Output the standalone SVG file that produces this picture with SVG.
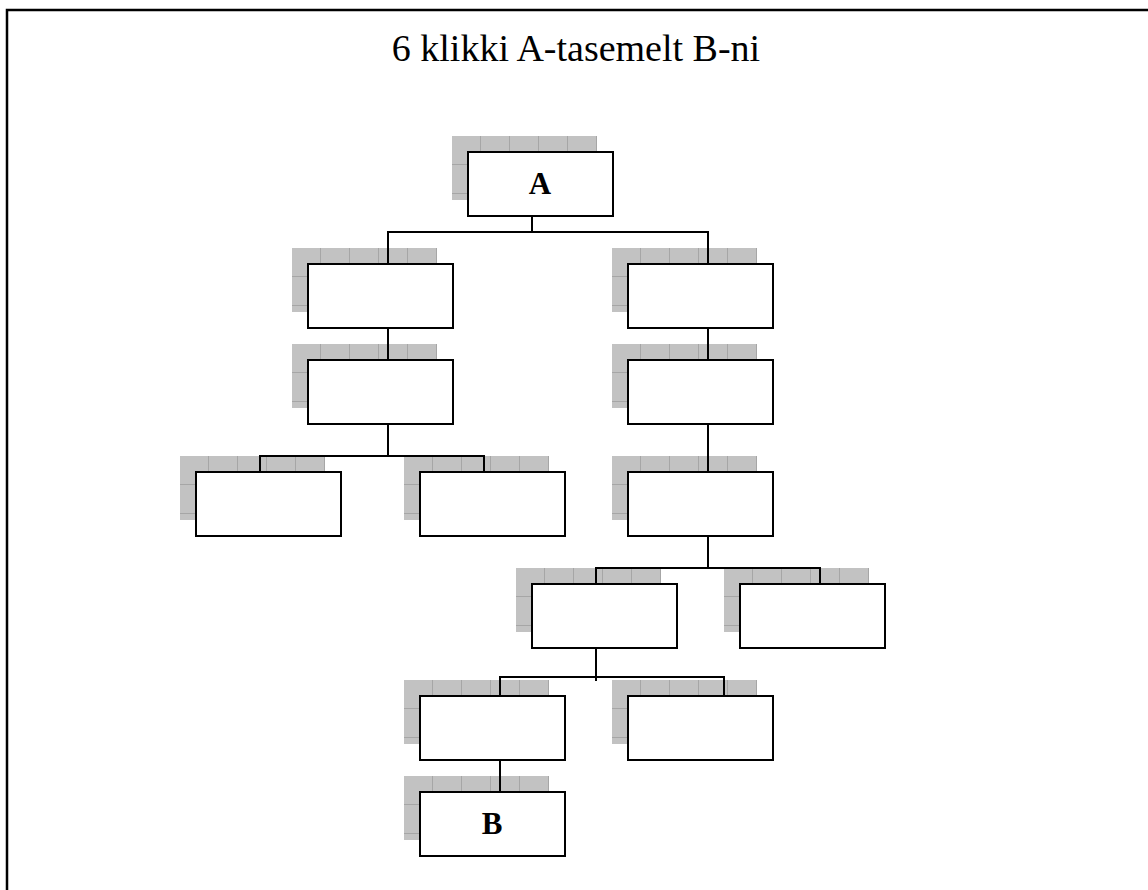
<svg xmlns="http://www.w3.org/2000/svg" width="1148" height="890" viewBox="0 0 1148 890">
<style>
.box{fill:#fff;stroke:#000;stroke-width:2}
.sh{fill:url(#tex)}
.lbl{font-family:"Liberation Serif",serif;font-weight:bold;font-size:31px;text-anchor:middle}
.title{font-family:"Liberation Serif",serif;font-size:38px;text-anchor:middle}
.con{fill:none;stroke:#000;stroke-width:2}
</style>
<defs>
<pattern id="tex" patternUnits="userSpaceOnUse" x="-16" y="-16" width="29" height="29">
<rect width="29" height="29" fill="#c2c2c2"/>
<path d="M28.5 0V29M0 28.5H29" stroke="#a6a6a6" stroke-width="1"/>
</pattern>
</defs>
<rect x="7" y="10" width="1160" height="900" fill="none" stroke="#000" stroke-width="2.5"/>
<text class="title" x="576" y="61">6 klikki A-tasemelt B-ni</text>
<g id="nodeA" transform="translate(468,152)"><rect class="sh" x="-16" y="-16" width="145" height="64"/><rect class="box" width="145" height="64"/><text class="lbl" x="72" y="42">A</text></g>
<g id="nodeL1" transform="translate(308,264)"><rect class="sh" x="-16" y="-16" width="145" height="64"/><rect class="box" width="145" height="64"/></g>
<g id="nodeR1" transform="translate(628,264)"><rect class="sh" x="-16" y="-16" width="145" height="64"/><rect class="box" width="145" height="64"/></g>
<g id="nodeL2" transform="translate(308,360)"><rect class="sh" x="-16" y="-16" width="145" height="64"/><rect class="box" width="145" height="64"/></g>
<g id="nodeR2" transform="translate(628,360)"><rect class="sh" x="-16" y="-16" width="145" height="64"/><rect class="box" width="145" height="64"/></g>
<g id="nodeL3a" transform="translate(196,472)"><rect class="sh" x="-16" y="-16" width="145" height="64"/><rect class="box" width="145" height="64"/></g>
<g id="nodeL3b" transform="translate(420,472)"><rect class="sh" x="-16" y="-16" width="145" height="64"/><rect class="box" width="145" height="64"/></g>
<g id="nodeR3" transform="translate(628,472)"><rect class="sh" x="-16" y="-16" width="145" height="64"/><rect class="box" width="145" height="64"/></g>
<g id="nodeR4a" transform="translate(532,584)"><rect class="sh" x="-16" y="-16" width="145" height="64"/><rect class="box" width="145" height="64"/></g>
<g id="nodeR4b" transform="translate(740,584)"><rect class="sh" x="-16" y="-16" width="145" height="64"/><rect class="box" width="145" height="64"/></g>
<g id="nodeR5a" transform="translate(420,696)"><rect class="sh" x="-16" y="-16" width="145" height="64"/><rect class="box" width="145" height="64"/></g>
<g id="nodeR5b" transform="translate(628,696)"><rect class="sh" x="-16" y="-16" width="145" height="64"/><rect class="box" width="145" height="64"/></g>
<g id="nodeB" transform="translate(420,792)"><rect class="sh" x="-16" y="-16" width="145" height="64"/><rect class="box" width="145" height="64"/><text class="lbl" x="72" y="42">B</text></g>
<g id="connectors" class="con">
<path class="con" d="M532 216V232M388 264V232H708V264"/>
<path class="con" d="M388 328V360M708 328V360"/>
<path class="con" d="M388 424V456M260 472V456H484V472"/>
<path class="con" d="M708 424V472"/>
<path class="con" d="M708 536V568M596 584V568H820V584"/>
<path class="con" d="M596 648V681M500 696V677H724V696"/>
<path class="con" d="M500 760V792"/>
</g>
</svg>
